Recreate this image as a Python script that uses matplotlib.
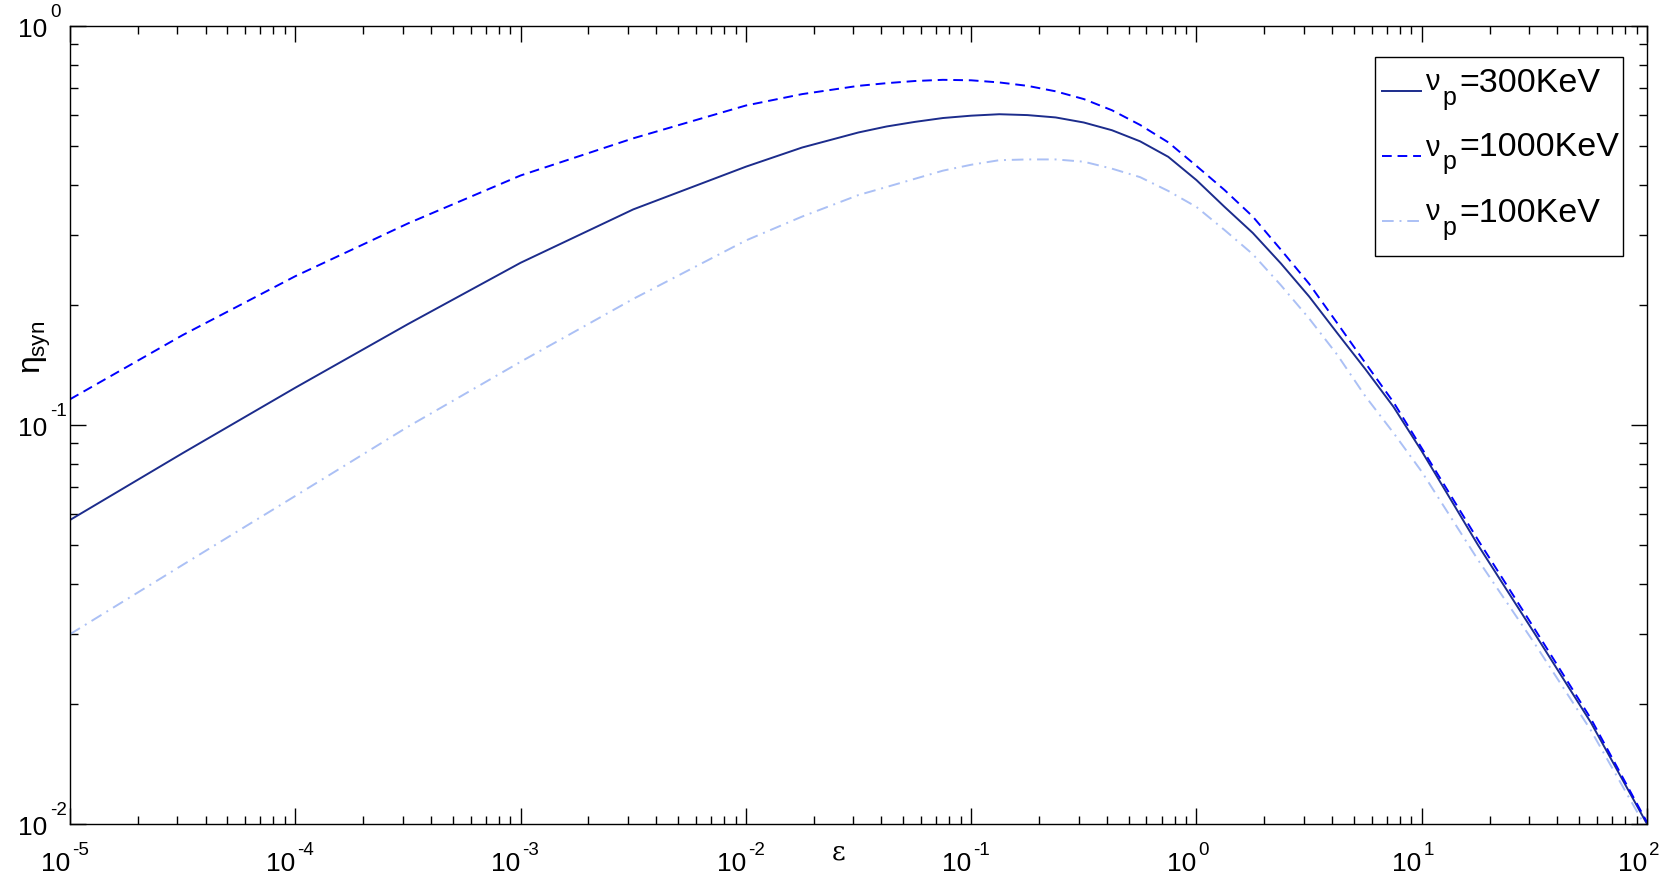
import matplotlib
matplotlib.use("Agg")
import matplotlib.pyplot as plt
from matplotlib.ticker import LogLocator, NullFormatter
from matplotlib.lines import Line2D
from matplotlib.patches import Rectangle
import numpy as np

plt.rcParams['font.family'] = ['Liberation Sans', 'DejaVu Sans']
plt.rcParams['mathtext.fontset'] = 'custom'
plt.rcParams['mathtext.rm'] = 'Liberation Sans'
plt.rcParams['mathtext.it'] = 'Liberation Sans'
plt.rcParams['mathtext.bf'] = 'Liberation Sans:bold'

W, H = 1680, 875

# log10(epsilon) sample positions
log_eps = [-5, -4.5, -4, -3.5, -3, -2.5, -2, -1.75,
           -1.5, -1.375, -1.25, -1.125, -1, -0.875, -0.75, -0.625, -0.5,
           -0.375, -0.25, -0.125, 0, 0.125, 0.25, 0.375, 0.5,
           0.625, 0.75, 0.875, 1, 1.25, 1.5, 1.75, 2]

eta_300 = [0.0578, 0.085, 0.124, 0.179, 0.255, 0.347, 0.444, 0.496,
           0.541, 0.560, 0.575, 0.588, 0.596, 0.601, 0.598, 0.590, 0.573,
           0.548, 0.514, 0.470, 0.411, 0.352, 0.303, 0.254, 0.210,
           0.170, 0.138, 0.111, 0.086, 0.0500, 0.0301, 0.0180, 0.0100]
eta_1000 = [0.116, 0.168, 0.236, 0.320, 0.422, 0.523, 0.632, 0.675,
            0.708, 0.719, 0.728, 0.733, 0.731, 0.722, 0.708, 0.686, 0.656,
            0.615, 0.565, 0.511, 0.446, 0.388, 0.333, 0.275, 0.226,
            0.180, 0.143, 0.114, 0.0875, 0.0515, 0.0309, 0.0184, 0.0101]
eta_100 = [0.0299, 0.0446, 0.0664, 0.099, 0.144, 0.207, 0.290, 0.333,
           0.377, 0.395, 0.414, 0.434, 0.449, 0.461, 0.463, 0.463, 0.457,
           0.439, 0.418, 0.386, 0.352, 0.308, 0.268, 0.224, 0.185,
           0.150, 0.118, 0.0955, 0.0764, 0.0459, 0.0284, 0.0172, 0.0097]

energies = ['300', '1000', '100']
colors = ['#1c2c8c', '#0000ff', '#abc0f5']
styles = ['-', (0, (5, 3)), (0, (6, 3, 1, 3))]

eps = 10.0 ** np.array(log_eps)

fig = plt.figure(figsize=(W / 100, H / 100), dpi=100, facecolor='white')
ax = fig.add_axes([70 / W, 1 - 824 / H, 1577 / W, 798 / H])

for ys, c, ls in zip([eta_300, eta_1000, eta_100], colors, styles):
    ax.plot(eps, ys, color=c, lw=1.4, ls=ls)

ax.set_xscale('log')
ax.set_yscale('log')
ax.set_xlim(1e-5, 1e2)
ax.set_ylim(1e-2, 1e0)

for axis in (ax.xaxis, ax.yaxis):
    axis.set_major_locator(LogLocator(base=10, numticks=20))
    axis.set_minor_locator(LogLocator(base=10, subs=np.arange(2, 10), numticks=20))
    axis.set_major_formatter(NullFormatter())
    axis.set_minor_formatter(NullFormatter())

ax.tick_params(which='both', direction='in', top=True, right=True, width=1, colors='black')
ax.tick_params(which='major', length=11.5)
ax.tick_params(which='minor', length=5.8)
for s in ax.spines.values():
    s.set_linewidth(1.0)

def pix_text(x, y_top, s, size, ha='left', **kw):
    # x, y_top in output pixels measured from the top-left corner
    return fig.text(x / W, 1 - y_top / H, s, fontsize=size, ha=ha, va='baseline', **kw)

# x tick labels: "10" ending at the tick, raised exponent after it
for e in range(-5, 3):
    xt = ax.transData.transform((10.0 ** e, 1e-2))[0]
    pix_text(xt, 871, '10', 19, ha='right')
    pix_text(xt + 2, 855, str(e), 13.5)

# y tick labels
for e in range(-2, 1):
    yt = H - ax.transData.transform((1e-5, 10.0 ** e))[1]
    pix_text(47, yt + 11, '10', 19, ha='right')
    pix_text(50, yt - 9, str(e), 13.5)

# axis labels
fig.text(37 / W, 1 - 347 / H, r'$\eta_{\mathregular{syn}}$', fontsize=23,
         rotation=90, ha='center', va='center')
fig.text(839 / W, 1 - 852 / H, 'ε', fontsize=19, family='DejaVu Serif',
         ha='center', va='center')

# legend box
fig.add_artist(Rectangle((1375 / W, 1 - 256 / H), 248 / W, 199 / H,
                         transform=fig.transFigure, facecolor='white',
                         edgecolor='black', lw=1.0, zorder=3))
row_y = [90.5, 155.5, 220.5]
for k, (en, c, ls) in enumerate(zip(energies, colors, styles)):
    y = row_y[k]
    fig.add_artist(Line2D([1382 / W, 1421 / W], [1 - y / H, 1 - y / H],
                          transform=fig.transFigure, color=c, lw=1.4, ls=ls, zorder=4))
    pix_text(1425, y, 'ν', 21, zorder=4)
    pix_text(1442, y + 14, 'p', 18, zorder=4)
    pix_text(1459, y + 1, '=' + en + 'KeV', 24.5, zorder=4)

fig.savefig('out.png', dpi=100, facecolor='white')
